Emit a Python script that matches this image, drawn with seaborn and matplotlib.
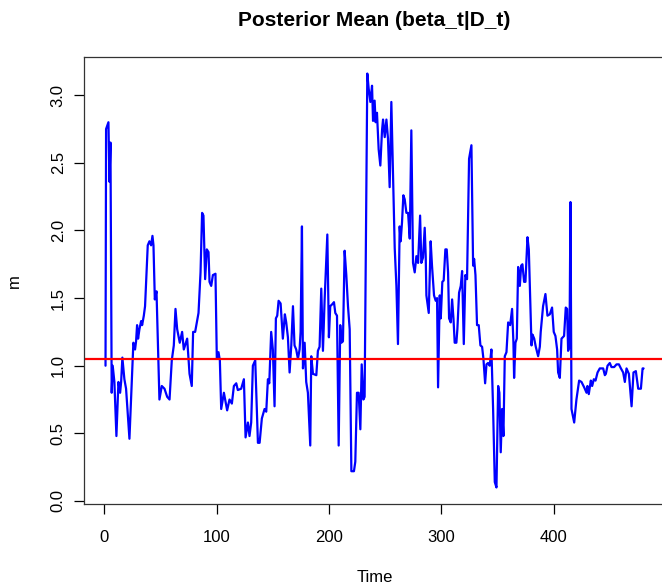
import matplotlib
matplotlib.use("Agg")
import matplotlib.pyplot as plt
import seaborn as sns
import pandas as pd
import numpy as np

# Posterior mean of beta_t given D_t, sampled along the time axis
time = [1, 1.5, 3.6, 4.5, 5.4, 6.5, 7.4, 8.9, 10.7, 12.5, 14.0, 14.9, 16.0, 17.8, 19.3,
        22.3, 25.8, 27.3, 28.2, 29.1, 30.0, 31.2, 32.7, 33.6, 35.1, 36.2, 38.6, 40.1,
        41.6, 42.8, 43.7, 44.9, 46.4, 49.0, 51.1, 53.5, 55.9, 58.0, 60.0, 61.8, 63.3,
        64.8, 67.1, 69.2, 70.7, 73.7, 75.8, 77.8, 79.0, 80.8, 83.8, 85.6, 87.0, 88.2,
        89.7, 91.2, 92.7, 93.6, 95.1, 96.6, 98.9, 100.1, 101.6, 102.8, 104.0, 106.4,
        109.3, 111.4, 113.5, 115.3, 117.4, 118.8, 121.8, 124.2, 125.7, 127.8, 129.2,
        130.7, 132.2, 134.3, 136.7, 138.2, 140.2, 142.6, 144.1, 145.6, 146.8, 148.5,
        150.0, 151.5, 152.7, 153.9, 155.1, 156.9, 158.9, 160.7, 161.9, 163.4, 164.9,
        166.4, 167.9, 169.3, 170.8, 172.3, 173.8, 174.7, 175.9, 176.8, 178.3, 179.7,
        181.2, 183.3, 184.2, 185.7, 188.7, 190.1, 191.6, 193.1, 194.6, 196.1, 198.5,
        199.9, 201.1, 203.5, 204.4, 205.6, 207.1, 208.6, 210.0, 211.0, 212.4, 213.9,
        215.4, 216.9, 218.4, 219.9, 222.2, 223.4, 224.9, 226.4, 227.9, 229.1, 230.6,
        231.7, 234.1, 235.3, 236.8, 238.3, 239.2, 240.6, 241.5, 242.7, 244.2, 245.7,
        247.2, 248.1, 249.6, 251.1, 252.5, 254.0, 255.5, 257.3, 258.5, 260.0, 261.4,
        262.9, 263.8, 265.0, 266.2, 267.4, 268.9, 270.4, 271.9, 273.3, 274.8, 276.3,
        277.8, 279.3, 281.1, 282.2, 283.7, 285.2, 286.1, 286.7, 288.8, 290.5, 291.7,
        293.5, 295.0, 296.2, 297.1, 298.6, 299.5, 300.9, 302.1, 303.6, 304.8, 306.0,
        306.9, 308.4, 309.6, 310.8, 311.9, 313.4, 314.3, 315.8, 317.3, 318.5, 320.0,
        321.4, 322.9, 324.7, 326.8, 328.3, 329.2, 330.4, 331.8, 333.3, 334.8, 336.3,
        337.5, 339.0, 340.2, 341.6, 343.1, 344.6, 346.1, 347.6, 349.1, 350.6, 351.7,
        352.9, 354.1, 355.3, 356.5, 358.0, 359.5, 361.3, 363.0, 364.2, 364.8, 366.0,
        367.2, 368.4, 369.9, 371.1, 372.2, 373.7, 374.9, 376.7, 377.9, 379.1, 380.3,
        381.2, 382.7, 384.1, 386.2, 387.7, 388.5, 390.6, 392.7, 394.5, 396.6, 398.6,
        400.1, 401.6, 403.1, 404.0, 405.5, 407.0, 409.3, 410.8, 412.0, 412.9, 414.1,
        415.0, 415.9, 418.3, 420.3, 422.7, 424.8, 427.2, 429.3, 430.1, 431.3, 433.1,
        434.3, 435.8, 437.3, 439.1, 441.1, 444.1, 445.6, 446.5, 448.0, 450.0, 451.5,
        453.9, 456.0, 458.1, 459.9, 461.9, 463.4, 464.9, 467.0, 469.4, 471.1, 473.2,
        475.3, 477.7, 479.2, 480.1]

m = [1.00, 2.75, 2.80, 2.36, 2.65, 0.80, 1.00, 0.88, 0.48, 0.88, 0.80, 0.88, 1.06, 0.90, 0.83,
     0.46, 1.17, 1.12, 1.18, 1.30, 1.20, 1.27, 1.33, 1.30, 1.37, 1.44, 1.89, 1.92,
     1.89, 1.96, 1.89, 1.49, 1.55, 0.75, 0.85, 0.83, 0.77, 0.75, 1.04, 1.15, 1.42,
     1.27, 1.17, 1.25, 1.12, 1.20, 0.94, 0.85, 1.25, 1.25, 1.39, 1.69, 2.13, 2.11,
     1.64, 1.86, 1.84, 1.62, 1.59, 1.67, 1.68, 1.05, 1.10, 1.04, 0.68, 0.80,
     0.67, 0.75, 0.72, 0.85, 0.87, 0.82, 0.83, 0.90, 0.47, 0.58, 0.48,
     0.58, 1.00, 1.04, 0.43, 0.43, 0.61, 0.68, 0.66, 0.90, 0.87, 1.25,
     1.12, 0.70, 1.35, 1.37, 1.48, 1.46, 1.20, 1.38, 1.32, 1.21, 0.95,
     1.15, 1.44, 1.15, 1.12, 1.05, 1.12, 1.25, 2.03, 0.98, 1.17, 0.88,
     0.80, 0.41, 1.07, 0.94, 0.93, 1.11, 1.14, 1.57, 1.11, 1.49, 1.97,
     1.21, 1.44, 1.46, 1.47, 1.39, 1.37, 0.41, 1.30, 1.17, 1.18, 1.85,
     1.67, 1.44, 1.27, 0.22, 0.22, 0.29, 0.80, 0.80, 0.53, 1.01, 0.75,
     0.77, 3.16, 3.05, 2.95, 3.07, 2.81, 2.96, 2.80, 2.87, 2.60, 2.48,
     2.74, 2.82, 2.69, 2.82, 2.68, 2.32, 2.95, 2.28, 1.87, 1.59, 1.16,
     2.03, 1.92, 2.06, 2.26, 2.23, 2.13, 2.13, 1.94, 2.74, 1.76, 1.69,
     1.81, 1.76, 2.11, 1.76, 1.80, 2.02, 1.81, 1.52, 1.39, 1.92, 1.74,
     1.52, 1.48, 1.50, 0.84, 1.52, 1.35, 1.62, 1.63, 1.86, 1.86, 1.69,
     1.35, 1.32, 1.49, 1.35, 1.17, 1.17, 1.27, 1.54, 1.59, 1.70, 1.16,
     1.67, 1.64, 2.53, 2.63, 1.74, 1.79, 1.67, 1.30, 1.30, 1.15, 1.14,
     1.05, 0.87, 1.01, 1.02, 1.00, 1.12, 0.68, 0.14, 0.10, 0.85, 0.80,
     0.36, 0.68, 0.48, 1.07, 1.10, 1.32, 1.30, 1.42, 1.17, 0.91, 1.17,
     1.20, 1.73, 1.59, 1.74, 1.75, 1.62, 1.62, 1.95, 1.86, 1.49, 1.15,
     1.23, 1.20, 1.14, 1.07, 1.14, 1.25, 1.44, 1.53, 1.37, 1.38, 1.43,
     1.25, 1.22, 1.12, 0.95, 0.91, 1.20, 1.22, 1.43, 1.42, 1.11, 1.14,
     2.21, 0.68, 0.58, 0.75, 0.89, 0.88, 0.84, 0.80, 0.85, 0.79, 0.89,
     0.85, 0.90, 0.89, 0.95, 0.98, 0.98, 0.93, 0.94, 1.00, 1.02, 0.99,
     0.99, 1.01, 1.01, 0.98, 0.95, 0.88, 0.98, 0.94, 0.70, 0.95, 0.96,
     0.83, 0.83, 0.98, 0.98]

reference_level = 1.05

x_ticks = [0, 100, 200, 300, 400]
y_ticks = [0.0, 0.5, 1.0, 1.5, 2.0, 2.5, 3.0]

df = pd.DataFrame({"Time": time, "m": m})

sns.set_style("white")
plt.rcParams["font.family"] = ["Liberation Sans", "DejaVu Sans"]
plt.rcParams["text.color"] = "black"
plt.rcParams["xtick.color"] = "black"
plt.rcParams["ytick.color"] = "black"

W, H = 662, 587
fig = plt.figure(figsize=(W / 100, H / 100), dpi=100)
ax = fig.add_axes([84 / W, 1 - 504 / H, 581 / W, 447 / H])

sns.lineplot(data=df, x="Time", y="m", ax=ax, color="#0000FF", linewidth=1.6,
             estimator=None, sort=False)
ax.axhline(reference_level, color="#FF0000", linewidth=1.6)

# R-style 4% padding around the data range
tmin, tmax = 1, 480
pad_x = 0.04 * (tmax - tmin)
ax.set_xlim(tmin - pad_x, tmax + pad_x)
vmin, vmax = min(m), max(m)
pad_y = 0.04 * (vmax - vmin)
ax.set_ylim(vmin - pad_y, vmax + pad_y)

ax.set_xticks(x_ticks)
ax.set_xticklabels([str(t) for t in x_ticks])
ax.set_yticks(y_ticks)
ax.set_yticklabels([f"{v:.1f}" for v in y_ticks], rotation=90, va="center")

ax.tick_params(axis="both", direction="out", length=7.2, width=0.9,
               labelsize=12, labelcolor="black", bottom=True, left=True)
ax.tick_params(axis="x", pad=11.5)
ax.tick_params(axis="y", pad=6)
for side, s in ax.spines.items():
    s.set_color("#333333")
    s.set_linewidth(0.9)
    s.set_visible(side != "right")

ax.set_xlabel("")
ax.set_ylabel("")
fig.text(374.5 / W, 1 - 578 / H, "Time", ha="center", va="center", fontsize=12)
fig.text(14 / W, 1 - 281 / H, "m", ha="center", va="center", fontsize=12, rotation=90)
fig.text(374.5 / W, 1 - 20 / H, "Posterior Mean (beta_t|D_t)", ha="center", va="center",
         fontsize=15, fontweight="bold")

fig.savefig("out.png", dpi=100)
